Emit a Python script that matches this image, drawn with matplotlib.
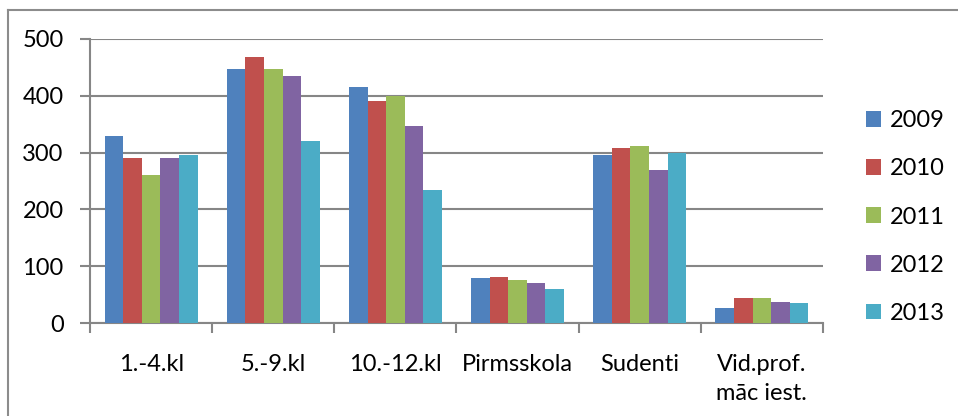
import numpy as np
import matplotlib
matplotlib.use('Agg')
import matplotlib.pyplot as plt
from matplotlib.lines import Line2D
from matplotlib.patches import Patch

categories = ['1.-4.kl', '5.-9.kl', '10.-12.kl', 'Pirmsskola', 'Sudenti', 'Vid.prof.\nmāc iest.']
years = ['2009', '2010', '2011', '2012', '2013']
v2009 = [330, 448, 415, 80, 296, 26]
v2010 = [291, 468, 390, 81, 308, 44]
v2011 = [260, 448, 400, 75, 311, 44]
v2012 = [291, 434, 346, 70, 270, 37]
v2013 = [296, 320, 235, 60, 300, 35]
series = [v2009, v2010, v2011, v2012, v2013]
colors = ['#4F81BD', '#C0504D', '#9BBB59', '#8064A2', '#4BACC6']

plt.rcParams['font.family'] = ['Lato', 'DejaVu Sans']
grid_col = '#868686'

fig = plt.figure(figsize=(9.58, 4.16), dpi=100)
ax = fig.add_axes([90/958, 1-323/416, (823-90)/958, (323-39)/416])

x = np.arange(len(categories))
w = 0.152
for i, vals in enumerate(series):
    ax.bar(x + (i - 2) * w, vals, w, color=colors[i], edgecolor='none', zorder=3)

ax.set_xlim(-0.5, len(categories) - 0.5)
ax.set_ylim(0, 500)
ax.set_yticks(range(0, 501, 100))
ax.yaxis.grid(True, color=grid_col, linewidth=1.5, zorder=0)

ax.set_xticks(x)
ax.set_xticklabels(categories, fontsize=17, linespacing=1.5, va='top')
ax.set_xticks(np.arange(-0.5, len(categories), 1), minor=True)
ax.tick_params(axis='x', which='major', length=0, pad=22)
ax.tick_params(axis='x', which='minor', length=7, width=1.5, color=grid_col, direction='out')
ax.tick_params(axis='y', length=7, width=1.5, color=grid_col, direction='out', labelsize=17, pad=12)

for s in ['top', 'right']:
    ax.spines[s].set_visible(False)
for s in ['left', 'bottom']:
    ax.spines[s].set_color(grid_col)
    ax.spines[s].set_linewidth(1.5)

handles = [Patch(facecolor=c, edgecolor='none') for c in colors]
fig.legend(handles, years, loc='center left', bbox_to_anchor=(854/958, 1-217/416),
           frameon=False, fontsize=17, handlelength=0.65, handleheight=0.65,
           handletextpad=0.35, labelspacing=1.15, borderpad=0)

# outer chart frame
fig.add_artist(Line2D([8/958, 1], [1-10/416, 1-10/416], color='#8c8c8c', linewidth=1.5))
fig.add_artist(Line2D([8/958, 8/958], [0, 1-10/416], color='#8c8c8c', linewidth=1.5))

fig.savefig('out.png', dpi=100)
